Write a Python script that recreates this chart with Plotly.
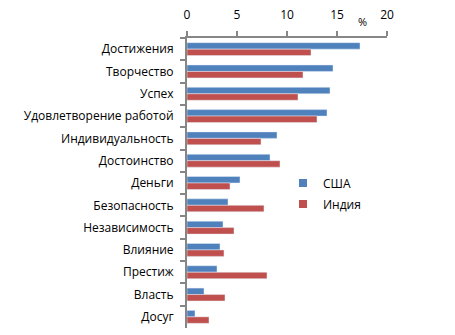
import plotly.graph_objects as go

categories = ["Достижения", "Творчество", "Успех", "Удовлетворение работой",
              "Индивидуальность", "Достоинство", "Деньги", "Безопасность",
              "Независимость", "Влияние", "Престиж", "Власть", "Досуг"]
usa = [17.3, 14.6, 14.3, 14.0, 9.0, 8.3, 5.3, 4.1, 3.6, 3.3, 3.0, 1.7, 0.8]
india = [12.4, 11.6, 11.1, 13.0, 7.4, 9.3, 4.3, 7.7, 4.7, 3.7, 8.0, 3.8, 2.2]
x_ticks = [0, 5, 10, 15, 20]

BLUE = "#4F81BD"
RED = "#C0504D"
AX = "#868686"
FONT = "Open Sans"

fig = go.Figure()
fig.add_trace(go.Bar(y=categories, x=usa, orientation="h", name="США",
                     marker_color=BLUE, showlegend=False))
fig.add_trace(go.Bar(y=categories, x=india, orientation="h", name="Индия",
                     marker_color=RED, showlegend=False))
# legend entries with small square symbols
fig.add_trace(go.Scatter(x=[None], y=[None], mode="markers", name="США",
                         marker=dict(symbol="square", size=8, color=BLUE),
                         legendgroup="a"))
fig.add_trace(go.Scatter(x=[None], y=[None], mode="markers", name="Индия",
                         marker=dict(symbol="square", size=8, color=RED),
                         legendgroup="b"))

fig.update_layout(
    width=455, height=335,
    margin=dict(l=187, r=68, t=38, b=7),
    paper_bgcolor="white", plot_bgcolor="white",
    barmode="group", bargap=0.42, bargroupgap=0,
    font=dict(family=FONT, size=12, color="black"),
    showlegend=True,
    legend=dict(x=0.48, y=0.55, xanchor="left", yanchor="top",
                bgcolor="rgba(0,0,0,0)", traceorder="grouped",
                tracegroupgap=2, font=dict(size=12),
                itemwidth=30),
    xaxis=dict(side="top", range=[0, 20], tickvals=x_ticks,
               showline=True, linecolor=AX, linewidth=2,
               ticks="outside", ticklen=5, tickcolor=AX, tickwidth=2,
               showgrid=False, zeroline=False, ticklabelstandoff=7,
               tickfont=dict(family=FONT, size=12, color="black")),
    yaxis=dict(type="category", autorange="reversed",
               showline=True, linecolor=AX, linewidth=2,
               ticks="outside", ticklen=5, tickcolor=AX, tickwidth=2,
               tickson="boundaries", showgrid=False, zeroline=False,
               ticklabelstandoff=9,
               tickfont=dict(family=FONT, size=12, color="black")),
    annotations=[dict(x=17.5, y=1, xref="x", yref="paper", text="%",
                      showarrow=False, yanchor="bottom", yshift=7,
                      font=dict(family=FONT, size=11, color="black"))],
)

fig.write_html("out.html")
